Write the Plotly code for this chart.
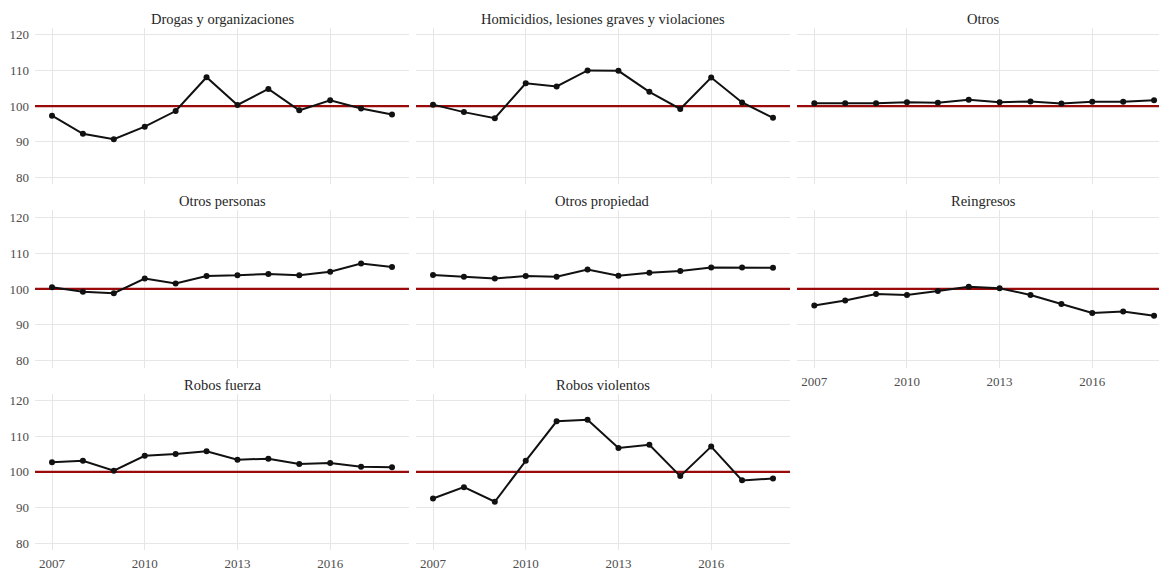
import plotly.graph_objects as go

# Annual index values by crime category (base = 100)
years = list(range(2007, 2019))

categories = [
    "Drogas y organizaciones",
    "Homicidios, lesiones graves y violaciones",
    "Otros",
    "Otros personas",
    "Otros propiedad",
    "Reingresos",
    "Robos fuerza",
    "Robos violentos",
]

drogas = [97.3, 92.2, 90.7, 94.2, 98.6, 108.1, 100.3, 104.8, 98.8, 101.6, 99.3, 97.6]
homicidios = [100.4, 98.3, 96.6, 106.4, 105.5, 110.0, 109.9, 104.0, 99.2, 108.0, 101.0, 96.7]
otros = [100.8, 100.8, 100.8, 101.1, 100.9, 101.8, 101.1, 101.3, 100.7, 101.2, 101.2, 101.6]
otros_personas = [100.5, 99.2, 98.8, 102.9, 101.5, 103.6, 103.8, 104.2, 103.8, 104.8, 107.1, 106.1]
otros_propiedad = [103.9, 103.4, 102.9, 103.6, 103.4, 105.4, 103.7, 104.5, 105.0, 106.0, 106.0, 105.9]
reingresos = [95.4, 96.8, 98.6, 98.3, 99.4, 100.6, 100.2, 98.3, 95.8, 93.3, 93.7, 92.5]
robos_fuerza = [102.7, 103.1, 100.3, 104.5, 105.0, 105.8, 103.4, 103.7, 102.2, 102.5, 101.4, 101.3]
robos_violentos = [92.5, 95.7, 91.6, 103.1, 114.2, 114.6, 106.7, 107.6, 98.8, 107.1, 97.6, 98.1]

series = [drogas, homicidios, otros, otros_personas, otros_propiedad,
          reingresos, robos_fuerza, robos_violentos]

reference_level = 100
y_ticks = [80, 90, 100, 110, 120]
x_ticks = [2007, 2010, 2013, 2016]

W, H = 1159, 571
FONT = "Liberation Serif"

# Panel geometry in pixels
col_px = [(35, 409), (416, 790), (797, 1159)]
row_px = [(28, 186), (212, 371), (397, 555)]
col_xrange = [(2006.45, 2018.55), (2006.45, 2018.55), (2006.44, 2018.16)]
strip_center_px = [222, 603, 984]

fig = go.Figure()
layout = dict(
    width=W, height=H,
    margin=dict(l=0, r=0, t=0, b=0),
    paper_bgcolor="white", plot_bgcolor="rgba(0,0,0,0)",
    showlegend=False,
    font=dict(family=FONT, color="#4d4d4d", size=13),
    annotations=[],
)

for i, (name, vals) in enumerate(zip(categories, series)):
    r, c = divmod(i, 3)
    n = i + 1
    xa = "xaxis" if n == 1 else f"xaxis{n}"
    ya = "yaxis" if n == 1 else f"yaxis{n}"
    xr = "x" if n == 1 else f"x{n}"
    yr = "y" if n == 1 else f"y{n}"

    x0, x1 = col_px[c]
    top, bot = row_px[r]
    show_x = (r == 2) or (r == 1 and c == 2)
    show_y = c == 0

    layout[xa] = dict(
        domain=[x0 / W, x1 / W], anchor=yr,
        range=list(col_xrange[c]), tickvals=x_ticks,
        showticklabels=show_x, ticks="", ticklabelstandoff=4,
        showgrid=True, gridcolor="#e6e6e6", gridwidth=1,
        zeroline=False, showline=False,
        tickfont=dict(family=FONT, size=13, color="#4d4d4d"),
    )
    layout[ya] = dict(
        domain=[1 - bot / H, 1 - top / H], anchor=xr,
        range=[78, 122], tickvals=y_ticks,
        showticklabels=show_y, ticks="", ticklabelstandoff=5,
        showgrid=True, gridcolor="#e6e6e6", gridwidth=1,
        zeroline=False, showline=False,
        tickfont=dict(family=FONT, size=13, color="#4d4d4d"),
    )

    # Reference line at the base level, spanning the whole panel
    fig.add_trace(go.Scatter(
        x=list(col_xrange[c]), y=[reference_level, reference_level],
        xaxis=xr, yaxis=yr, mode="lines",
        line=dict(color="#9b0a0a", width=2.2),
        hoverinfo="skip",
    ))

    fig.add_trace(go.Scatter(
        x=years, y=vals, xaxis=xr, yaxis=yr,
        mode="lines+markers",
        line=dict(color="#111111", width=2),
        marker=dict(color="#111111", size=6),
        cliponaxis=False,
    ))

    # Facet strip title
    layout["annotations"].append(dict(
        text=name, xref="paper", yref="paper",
        x=strip_center_px[c] / W,
        y=1 - (top - 9) / H, xanchor="center", yanchor="middle",
        showarrow=False,
        font=dict(family=FONT, size=14.5, color="#262626"),
    ))

fig.update_layout(**layout)
fig.write_html("out.html")
